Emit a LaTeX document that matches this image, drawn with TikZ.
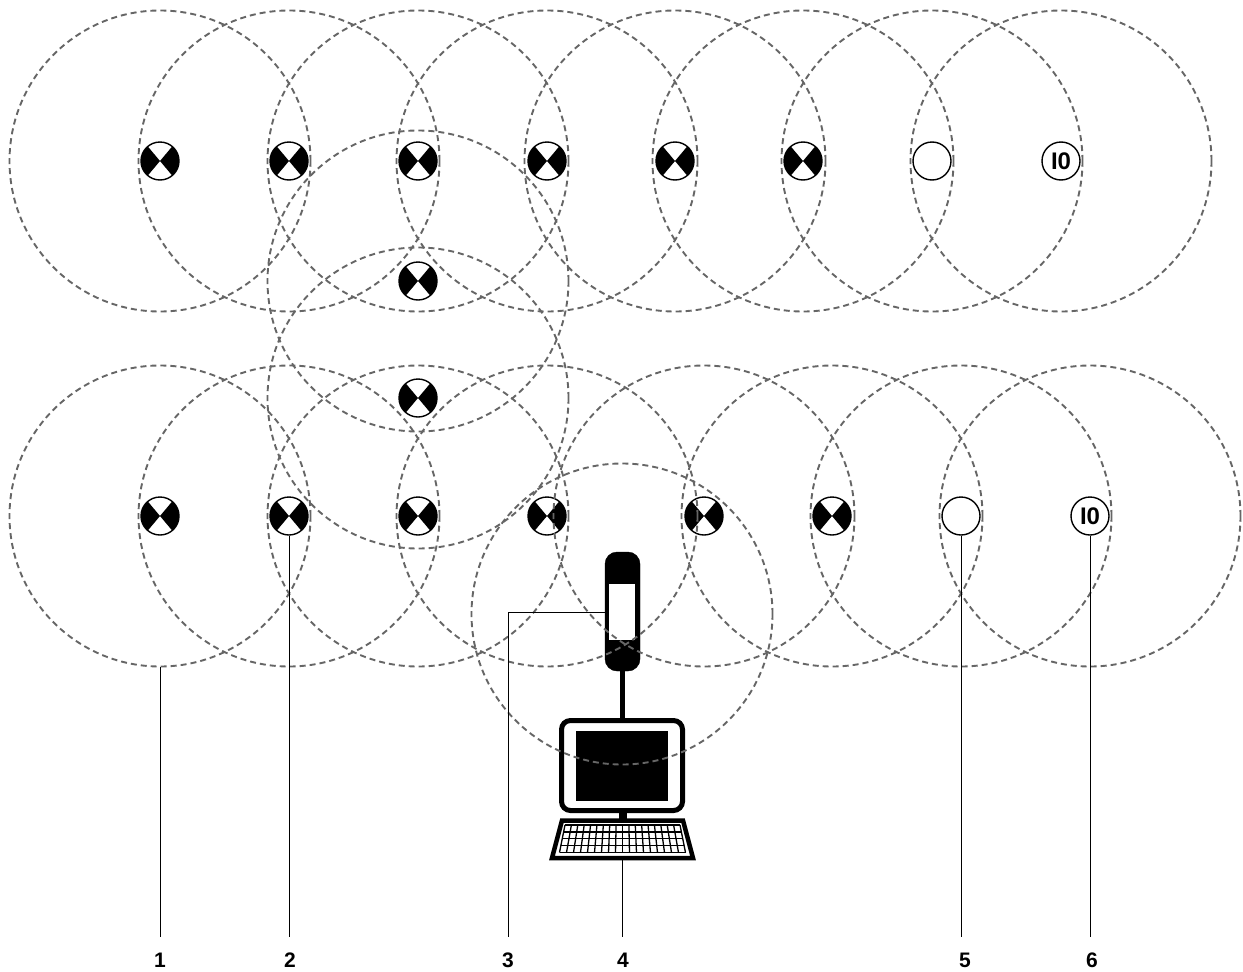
\documentclass[tikz,border=0pt]{standalone}
\usepackage{fontspec}
\setmainfont{Liberation Sans}
\usetikzlibrary{calc}
\tikzstyle{net}=[
  x=1pt,y=-1pt
]
\tikzstyle{beacon}=[
  draw,circle,line width=1.4pt,minimum size=38pt,inner sep=0pt,fill=white,
  path picture={
    \fill [black] (path picture bounding box.center) -- ++(50:20pt) arc (50:-50:20pt) -- cycle;
    \fill [black] (path picture bounding box.center) -- ++(130:20pt) arc (130:230:20pt) -- cycle;
  }
]
\tikzstyle{plain}=[
  draw,circle,line width=1.4pt,minimum size=38pt,inner sep=0pt,fill=white,
  font=\fontsize{24}{26}\selectfont\bfseries
]
\tikzstyle{radio}=[
  draw=black!60,circle,line width=1.9pt,dash pattern=on 6pt off 4pt,
  minimum size=301pt,inner sep=0pt
]
\tikzstyle{leader}=[
  line width=1pt
]
\tikzstyle{callout}=[
  font=\fontsize{21}{24}\selectfont\bfseries
]
\begin{document}
\begin{tikzpicture}[net]
  \useasboundingbox (0,0) rectangle (1243,972);
  % top row
  \foreach \n/\x in {1/160,2/289,3/418,4/547,5/675,6/803}
    \node (t\n) at (\x,161) [beacon] {};
  \node (t7) at (932,161) [plain] {};
  \node (t8) at (1061,161) [plain] {I0};
  % link between the rows
  \node (m1) at (418,281) [beacon] {};
  \node (m2) at (418,398) [beacon] {};
  % bottom row
  \foreach \n/\x in {1/160,2/289,3/418,4/547,5/704,6/832}
    \node (b\n) at (\x,516) [beacon] {};
  \node (b7) at (961,516) [plain] {};
  \node (b8) at (1090,516) [plain] {I0};
  % gateway
  \draw [line width=5pt] (622.5,671) -- (622.5,720);
  \node (tower) at (622.5,611.5) [draw,fill=black,rounded corners=12pt,minimum width=35pt,minimum height=119pt,inner sep=0pt] {};
  \node (window) at (622,612) [fill=white,minimum width=26pt,minimum height=56pt,inner sep=0pt] {};
  \node (monitor) at (622,765.5) [draw,line width=5pt,fill=white,rounded corners=9pt,minimum width=121pt,minimum height=90pt,inner sep=0pt] {};
  \node (screen) at (622,766) [fill=black,minimum width=92pt,minimum height=70pt,inner sep=0pt] {};
  \fill (618.5,813) rectangle (627,820);
  % keyboard
  \coordinate (kbl) at (552,858);
  \coordinate (kbr) at (693,858);
  \draw [line width=4.5pt,fill=white] (562,820.5) -- (683,820.5) -- (kbr) -- (kbl) -- cycle;
  \foreach \i in {0,...,4}
    \draw [line width=1.3pt] ($(565,825)!\i/4!(559.5,852.5)$) -- ($(680,825)!\i/4!(685.5,852.5)$);
  \foreach \i in {0,...,18}
    \draw [line width=1.3pt] ($(565,825)!\i/18!(680,825)$) -- ($(559.5,852.5)!\i/18!(685.5,852.5)$);
  % ranges
  \foreach \x in {160,289,418,547,675,803,932,1061}
    \node (rt\x) at (\x,161) [radio] {};
  \node (rm1) at (418,281) [radio] {};
  \node (rm2) at (418,398) [radio] {};
  \foreach \x in {160,289,418,547,704,832,961,1090}
    \node (rb\x) at (\x,516) [radio] {};
  \node (rg) at (622,614) [radio] {};
  % callouts
  \foreach \n/\x in {1/160,2/290,3/508,4/623,5/965,6/1092}
    \node (c\n) at (\x,960) [callout] {\n};
  \draw [leader] (rb160.south) -- (160,937);
  \draw [leader] (b2) -- (289,937);
  \draw [leader] (tower.west |- 0,612) -- (508,612) -- (508,937);
  \draw [leader] (622,860) -- (622,937);
  \draw [leader] (b7) -- (961,937);
  \draw [leader] (b8) -- (1090,937);
\end{tikzpicture}
\end{document}
